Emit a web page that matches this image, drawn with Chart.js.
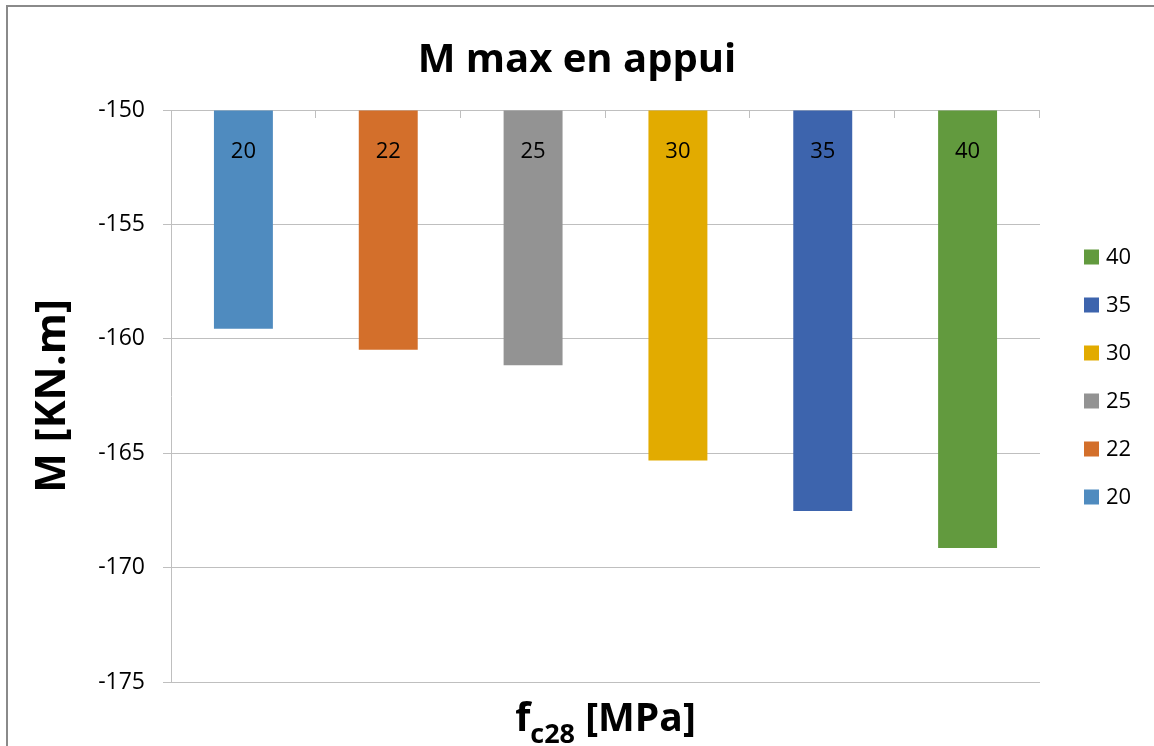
<!DOCTYPE html>
<html><head><meta charset="utf-8">
<script src="https://cdn.jsdelivr.net/npm/chart.js@4.4.0/dist/chart.umd.min.js"></script>
<style>html,body{margin:0;padding:0;background:#fff;}#wrap{width:1154px;height:746px;position:relative;overflow:hidden;}</style>
</head><body><div id="wrap"><canvas id="c" width="1154" height="746"></canvas></div>
<script>
const categories = ['20', '22', '25', '30', '35', '40'];
const values = [-159.56, -160.48, -161.16, -165.32, -167.53, -169.14];
const colors = ['#4F8BBF', '#D36F2B', '#939393', '#E2AB00', '#3D64AD', '#629A3E'];
const yTicks = [-150, -155, -160, -165, -170, -175];
const valueBase = -150;
const chartTitle = 'M max en appui';
const yTitle = 'M [KN.m]';
const xTitleMain = 'f';
const xTitleSub = 'c28';
const xTitleRest = ' [MPa]';

const FONT = "'Open Sans', 'DejaVu Sans', sans-serif";
const GRID = '#BFBFBF';

const extras = {
  id: 'extras',
  beforeDraw(chart) {
    const ctx = chart.ctx;
    ctx.save();
    ctx.fillStyle = '#fff';
    ctx.fillRect(0, 0, chart.width, chart.height);
    ctx.strokeStyle = '#8A8A8A';
    ctx.lineWidth = 2;
    ctx.strokeRect(7, 6, chart.width + 50, chart.height + 50);
    ctx.restore();
  },
  afterDatasetsDraw(chart) {
    const ctx = chart.ctx;
    const ca = chart.chartArea;
    const xs = chart.scales.x;
    const meta = chart.getDatasetMeta(0);
    ctx.save();
    // category tick marks on the top axis line
    const n = categories.length;
    const catW = (xs.right - xs.left) / n;
    ctx.strokeStyle = GRID;
    ctx.lineWidth = 1;
    for (let i = 1; i <= n; i++) {
      const x = Math.round(xs.left + i * catW) - 0.5;
      ctx.beginPath();
      ctx.moveTo(x, ca.top);
      ctx.lineTo(x, ca.top + 8);
      ctx.stroke();
    }
    // data labels (category names) near the bar base
    ctx.fillStyle = '#000';
    ctx.font = "22px " + FONT;
    ctx.textAlign = 'center';
    ctx.textBaseline = 'middle';
    meta.data.forEach((bar, i) => {
      const top = Math.min(bar.base, bar.y);
      ctx.fillText(categories[i], bar.x, top + 41);
    });
    // legend (reversed order)
    ctx.font = "22px " + FONT;
    ctx.textAlign = 'left';
    const cy = (ca.top + ca.bottom) / 2 - 19;
    const sp = 48;
    const bx = ca.right + 44;
    for (let k = 0; k < n; k++) {
      const i = n - 1 - k;
      const y = cy + (k - (n - 1) / 2) * sp;
      ctx.fillStyle = colors[i];
      ctx.fillRect(bx, y - 7.5, 15, 15);
      ctx.fillStyle = '#000';
      ctx.fillText(categories[i], bx + 22, y + 1);
    }
    // x axis title with subscript
    const mainFont = "bold 39px " + FONT;
    const subFont = "bold 27px " + FONT;
    ctx.font = mainFont;
    const w1 = ctx.measureText(xTitleMain).width;
    const w3 = ctx.measureText(xTitleRest).width;
    ctx.font = subFont;
    const w2 = ctx.measureText(xTitleSub).width;
    const total = w1 + w2 + w3;
    let x0 = (ca.left + ca.right) / 2 - total / 2;
    const base = 731;
    ctx.textBaseline = 'alphabetic';
    ctx.font = mainFont;
    ctx.fillText(xTitleMain, x0, base);
    ctx.font = subFont;
    ctx.fillText(xTitleSub, x0 + w1, base + 12);
    ctx.font = mainFont;
    ctx.fillText(xTitleRest, x0 + w1 + w2, base);
    ctx.restore();
  }
};

new Chart(document.getElementById('c'), {
  type: 'bar',
  data: {
    labels: categories,
    datasets: [{
      data: values,
      base: valueBase,
      backgroundColor: colors,
      borderWidth: 0,
      barPercentage: 0.407,
      categoryPercentage: 1.0
    }]
  },
  options: {
    responsive: false,
    animation: false,
    devicePixelRatio: 1,
    layout: { padding: { left: 0, right: 0, top: 0, bottom: 0 } },
    plugins: {
      legend: { display: false },
      tooltip: { enabled: false },
      title: {
        display: true,
        text: chartTitle,
        color: '#000',
        font: { family: FONT, size: 40, weight: 'bold', lineHeight: 1.2 },
        padding: { top: 37, bottom: 25 }
      }
    },
    scales: {
      x: {
        position: 'bottom',
        ticks: { display: false },
        grid: { display: false },
        border: { display: false },
        afterFit(s) { s.height = 64; }
      },
      y: {
        min: -175,
        max: -150,
        afterBuildTicks(s) { s.ticks = yTicks.map(v => ({ value: v })); },
        ticks: {
          color: '#000',
          padding: 18,
          font: { family: FONT, size: 23 }
        },
        grid: { color: GRID, lineWidth: 1, tickLength: 8, drawTicks: true, tickColor: GRID },
        border: { display: true, color: GRID, width: 1 },
        title: {
          display: true,
          text: yTitle,
          color: '#000',
          font: { family: FONT, size: 42, weight: 'bold', lineHeight: 1.2 },
          padding: { top: 28, bottom: 0 }
        },
        afterFit(s) { s.width = 171; }
      },
      legendSpace: {
        type: 'linear',
        position: 'right',
        display: true,
        ticks: { display: false },
        grid: { display: false, drawTicks: false },
        border: { display: false },
        afterFit(s) { s.width = 114; }
      }
    }
  },
  plugins: [extras]
});
</script>
</body></html>
